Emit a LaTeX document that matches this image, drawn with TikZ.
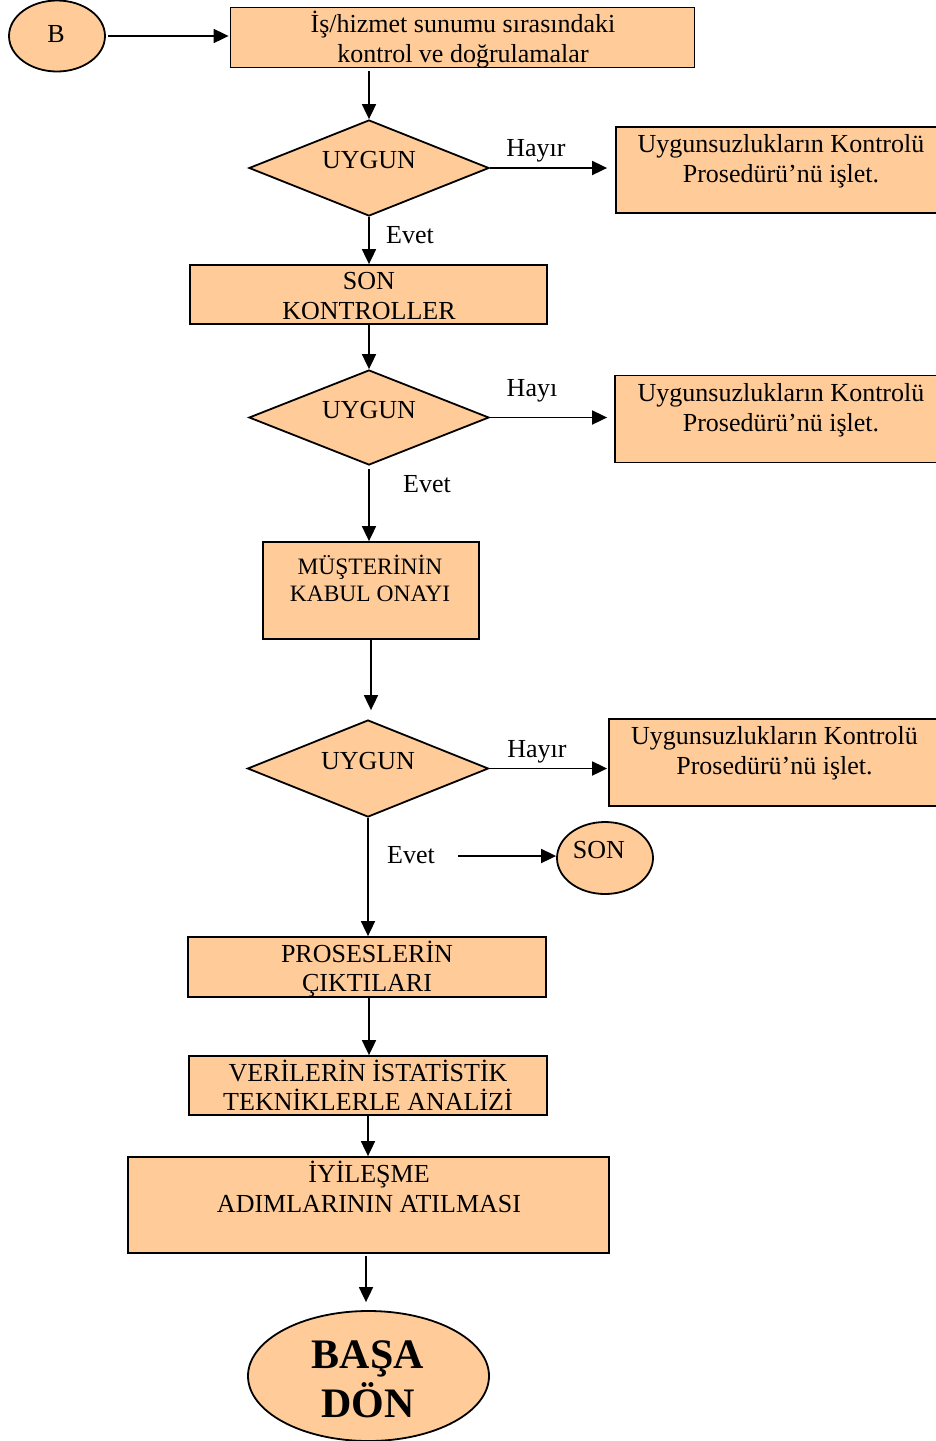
\documentclass[tikz,border=0pt]{standalone}
\usepackage{fontspec}
\setmainfont{Liberation Serif}
\usetikzlibrary{shapes.geometric,arrows.meta}
\definecolor{boxfill}{RGB}{255,204,153}
\begin{document}
\begin{tikzpicture}[x=1pt,y=-1pt,
  shp/.style={draw=black,fill=boxfill,line width=1.8pt,inner sep=0pt},
  rbox/.style={shp,rectangle},
  dia/.style={shp,diamond,minimum width=240pt,minimum height=96pt},
  oval/.style={shp,ellipse},
  txt/.style={inner sep=0pt,anchor=base,font=\fontsize{26}{30}\selectfont},
  stxt/.style={inner sep=0pt,anchor=base,font=\fontsize{23.5}{27}\selectfont},
  btxt/.style={inner sep=0pt,anchor=base,font=\fontsize{42}{46}\selectfont\bfseries},
  arr/.style={line width=1.8pt,-{Triangle[length=15pt,width=14pt]}}
]
\clip (0,0) rectangle (936,1441);
\fill[white] (0,0) rectangle (936,1441);
% shapes
\node[oval,minimum width=96pt,minimum height=71pt] (b) at (57,36) {};
\node[rbox,minimum width=464pt,minimum height=60pt] (k1) at (462.5,37.5) {};
\node[dia] (d1) at (369,168) {};
\node[rbox,minimum width=330pt,minimum height=86pt] (r1) at (781,170) {};
\node[rbox,minimum width=357pt,minimum height=59pt] (k2) at (368.5,294.5) {};
\node[dia,minimum height=95pt] (d2) at (369,417.5) {};
\node[rbox,minimum width=330pt,minimum height=87pt] (r2) at (780,419) {};
\node[rbox,minimum width=216pt,minimum height=97pt] (k3) at (371,590.5) {};
\node[dia,minimum width=241pt,minimum height=97pt] (d3) at (368,768.5) {};
\node[rbox,minimum width=331pt,minimum height=87pt] (r3) at (774.5,762.5) {};
\node[oval,minimum width=96pt,minimum height=72pt] (son) at (605,858) {};
\node[rbox,minimum width=358pt,minimum height=60pt] (k4) at (367,967) {};
\node[rbox,minimum width=358pt,minimum height=59pt] (k5) at (368,1085.5) {};
\node[rbox,minimum width=481pt,minimum height=96pt] (k6) at (368.5,1205) {};
\node[oval,minimum width=241pt,minimum height=130pt] (bd) at (368.5,1376) {};
% texts
\node[txt] (tb) at (56,42) {B};
\node[txt] (t1a) at (463,32) {İş/hizmet sunumu sırasındaki};
\node[txt] (t1b) at (463,62) {kontrol ve doğrulamalar};
\node[txt] (tu1) at (369,168) {UYGUN};
\node[txt] (th1) at (536,156) {Hayır};
\node[txt] (tr1a) at (781,152) {Uygunsuzlukların Kontrolü};
\node[txt] (tr1b) at (781,182) {Prosedürü’nü işlet.};
\node[txt] (te1) at (410,243) {Evet};
\node[txt] (t2a) at (369,289) {SON};
\node[txt] (t2b) at (369,319) {KONTROLLER};
\node[txt] (tu2) at (369,418) {UYGUN};
\node[txt] (th2) at (532,396) {Hayı};
\node[txt] (tr2a) at (781,401) {Uygunsuzlukların Kontrolü};
\node[txt] (tr2b) at (781,431) {Prosedürü’nü işlet.};
\node[txt] (te2) at (427,492) {Evet};
\node[stxt] (t3a) at (370,574) {MÜŞTERİNİN};
\node[stxt] (t3b) at (370,601) {KABUL ONAYI};
\node[txt] (tu3) at (368,769) {UYGUN};
\node[txt] (th3) at (537,757) {Hayır};
\node[txt] (tr3a) at (774.5,744) {Uygunsuzlukların Kontrolü};
\node[txt] (tr3b) at (774.5,774) {Prosedürü’nü işlet.};
\node[txt] (te3) at (411,863) {Evet};
\node[txt] (tson) at (599,858) {SON};
\node[txt] (t4a) at (367,962) {PROSESLERİN};
\node[txt] (t4b) at (367,991) {ÇIKTILARI};
\node[txt] (t5a) at (368,1081) {VERİLERİN İSTATİSTİK};
\node[txt] (t5b) at (368,1110) {TEKNİKLERLE ANALİZİ};
\node[txt] (t6a) at (369,1182) {İYİLEŞME};
\node[txt] (t6b) at (369,1212) {ADIMLARININ ATILMASI};
\node[btxt] (tbd1) at (368,1368) {BAŞA};
\node[btxt] (tbd2) at (368,1417) {DÖN};
% connectors
\coordinate (evs) at (458,856);
\draw[arr,shorten <=2pt,shorten >=1pt] (b.east) -- (b.east -| k1.west);
\draw[arr] ([yshift=-3pt]k1.south -| d1.north) -- (d1.north);
\draw[arr,shorten >=8pt] (d1.east) -- (d1.east -| r1.west);
\draw[arr] (d1.south) -- (k2.north -| d1.south);
\draw[arr] (k2.south -| d2.north) -- (d2.north);
\draw[arr,shorten >=7pt] (d2.east) -- (d2.east -| r2.west);
\draw[arr] ([yshift=-3pt]d2.south) -- (k3.north -| d2.south);
\draw[arr] (k3.south) -- ([yshift=9pt]d3.north -| k3.south);
\draw[arr,shorten >=1pt] (d3.east) -- (d3.east -| r3.west);
\draw[arr] (evs) -- (son.west |- evs);
\draw[arr] (d3.south) -- (k4.north -| d3.south);
\draw[arr] (k4.south -| 369,0) -- (k5.north -| 369,0);
\draw[arr] (k5.south -| 368,0) -- (k6.north -| 368,0);
\draw[arr] ([yshift=-2pt]k6.south -| 366,0) -- ([yshift=8pt]bd.north -| 366,0);
\end{tikzpicture}
\end{document}
